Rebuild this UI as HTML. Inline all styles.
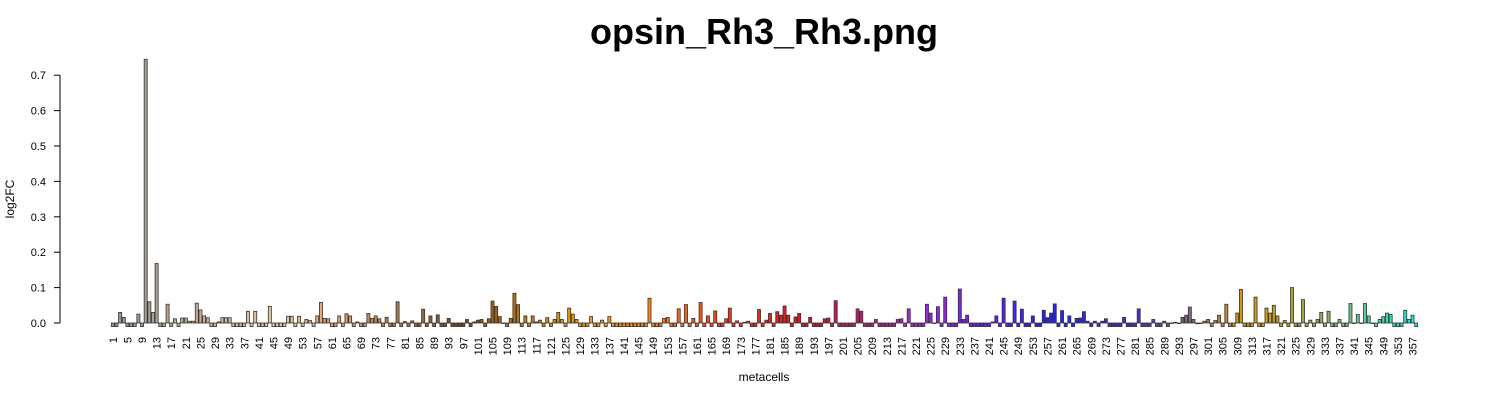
<!DOCTYPE html>
<html><head><meta charset="utf-8"><style>
body{margin:0;background:#fff}
svg{display:block;font-family:"Liberation Sans",sans-serif}
</style></head><body>
<svg id="chart" width="1500" height="400">
<text x="764" y="44" text-anchor="middle" font-size="36" font-weight="bold">opsin_Rh3_Rh3.png</text>
<text x="764" y="381" text-anchor="middle" font-size="12">metacells</text>
<text transform="translate(14,199) rotate(-90)" text-anchor="middle" font-size="12">log2FC</text>
<g id="yaxis"></g>
<g id="bars"></g>
<g id="xlabels"></g>
</svg>
<script>
const N = -0.01;
const values = [
N,N,0.03,0.016,N,N,N,0.025,N,0.745,0.06,0.03,0.168,N,N,0.053,N,0.012,N,0.014,
0.014,0.005,0.005,0.056,0.037,0.02,0.015,N,N,0.003,0.015,0.015,0.015,N,N,N,N,0.033,N,0.033,
N,N,N,0.047,N,N,N,N,0.019,0.019,N,0.019,N,0.01,0.007,N,0.02,0.058,0.013,0.012,
N,N,0.02,N,0.026,0.02,N,0.003,N,N,0.027,0.013,0.02,0.012,N,0.016,N,N,0.06,N,
0.004,N,0.006,N,N,0.039,N,0.02,N,0.023,N,N,0.013,N,N,N,N,0.01,N,0.003,
0.008,0.01,N,0.012,0.062,0.047,0.018,0,N,0.013,0.084,0.052,N,0.02,N,0.02,0.003,0.008,N,0.015,
N,0.01,0.03,0.01,N,0.042,0.025,0.01,N,N,N,0.018,N,N,0.008,N,0.018,N,N,N,
N,N,N,N,N,N,N,0.07,N,N,N,0.013,0.016,N,N,0.04,N,0.052,N,0.013,
N,0.058,N,0.02,N,0.034,N,N,0.012,0.042,N,0.006,N,0.002,0.005,N,N,0.038,N,0.008,
0.027,N,0.032,0.022,0.048,0.022,N,0.017,0.027,N,N,0.016,N,N,N,0.012,0.014,N,0.063,N,
N,N,N,N,0.04,0.033,N,N,N,0.01,N,N,N,N,N,0.01,0.012,N,0.04,N,
N,N,N,0.053,0.028,0,0.046,N,0.073,N,N,N,0.096,0.01,0.022,N,N,N,N,N,
N,0.003,0.02,N,0.07,N,N,0.062,N,0.039,N,N,0.02,N,N,0.036,0.015,0.028,0.054,N,
0.035,N,0.02,N,0.013,0.014,0.032,0.005,N,0.005,N,0.005,0.012,N,N,N,N,0.016,N,N,
N,0.04,N,N,N,0.01,N,N,0.005,N,0,0.002,0,0.016,0.022,0.045,0.01,-0.002,0,0.005,
0.01,N,0.007,0.022,N,0.053,N,N,0.028,0.095,N,N,N,0.073,N,N,0.042,0.028,0.05,0.02,
N,0.007,N,0.1,N,N,0.066,N,0.008,N,0.01,0.03,N,0.033,N,N,0.01,N,N,0.055,
0,0.024,0,0.055,0.02,0,N,0.01,0.018,0.028,0.024,N,N,N,0.036,0.01,0.022,N
];
const yTicks = [0,0.1,0.2,0.3,0.4,0.5,0.6,0.7];
const yTickLabels = ["0.0","0.1","0.2","0.3","0.4","0.5","0.6","0.7"];

const NS="http://www.w3.org/2000/svg";
const y0=323, pxPer=354;
function yScale(v){return y0 - v*pxPer;}
const left=111, right=1418, n=values.length, bw=(right-left)/n;
function xScale(i){return left + i*bw;}
const stops=[[0,[150,150,150]],[20,[190,170,150]],[45,[240,200,160]],[70,[200,140,90]],[95,[120,70,30]],[110,[180,110,20]],[130,[240,160,20]],[148,[255,130,20]],[170,[240,50,20]],[190,[220,20,40]],[205,[190,30,110]],[222,[160,40,220]],[235,[120,30,240]],[255,[40,30,255]],[280,[60,50,200]],[295,[130,100,130]],[310,[220,150,20]],[320,[190,160,30]],[330,[150,170,90]],[345,[80,210,160]],[358,[20,230,220]]];
function color(i){
  for(let k=0;k<stops.length-1;k++){
    const a=stops[k],b=stops[k+1];
    if(i>=a[0]&&i<=b[0]){const t=(i-a[0])/(b[0]-a[0]);
      return 'rgb('+a[1].map((c,j)=>Math.round(c+(b[1][j]-c)*t)).join(',')+')';}
  }
  return 'rgb(20,230,220)';
}
const ya=document.getElementById('yaxis');
const ax=document.createElementNS(NS,'line');


ax.setAttribute('x1',60);ax.setAttribute('x2',60);ax.setAttribute('y1',yScale(0.7));ax.setAttribute('y2',yScale(0));ax.setAttribute('stroke','#000');
ya.appendChild(ax);
yTicks.forEach((v,k)=>{
  const t=document.createElementNS(NS,'line');
  
  
  t.setAttribute('x1',54);t.setAttribute('x2',60);t.setAttribute('y1',yScale(v));t.setAttribute('y2',yScale(v));t.setAttribute('stroke','#000');
  ya.appendChild(t);
  const l=document.createElementNS(NS,'text');
  
  
  l.setAttribute('x',46);l.setAttribute('y',yScale(v)+4);l.setAttribute('text-anchor','end');l.setAttribute('font-size','11');
  l.textContent=yTickLabels[k];ya.appendChild(l);
});
const bg=document.getElementById('bars');
values.forEach((v,i)=>{
  const r=document.createElementNS(NS,'rect');
  
  
  const ya1=yScale(Math.max(v,0)), ya2=yScale(Math.min(v,0));
  r.setAttribute('x',xScale(i)+0.3);r.setAttribute('width',bw-0.6);
  r.setAttribute('y',ya1);r.setAttribute('height',Math.max(ya2-ya1,0.5));
  r.setAttribute('fill',color(i));r.setAttribute('stroke','#333');r.setAttribute('stroke-width','0.8');
  bg.appendChild(r);
});
const xl=document.getElementById('xlabels');
for(let i=0;i<n;i+=4){
  const l=document.createElementNS(NS,'text');
  
  
  const cx=xScale(i)+bw/2+4;
  l.setAttribute('transform','translate('+cx+',337) rotate(-90)');
  l.setAttribute('text-anchor','end');l.setAttribute('font-size','11');
  l.textContent=String(i+1);xl.appendChild(l);
}
</script>
</body></html>
